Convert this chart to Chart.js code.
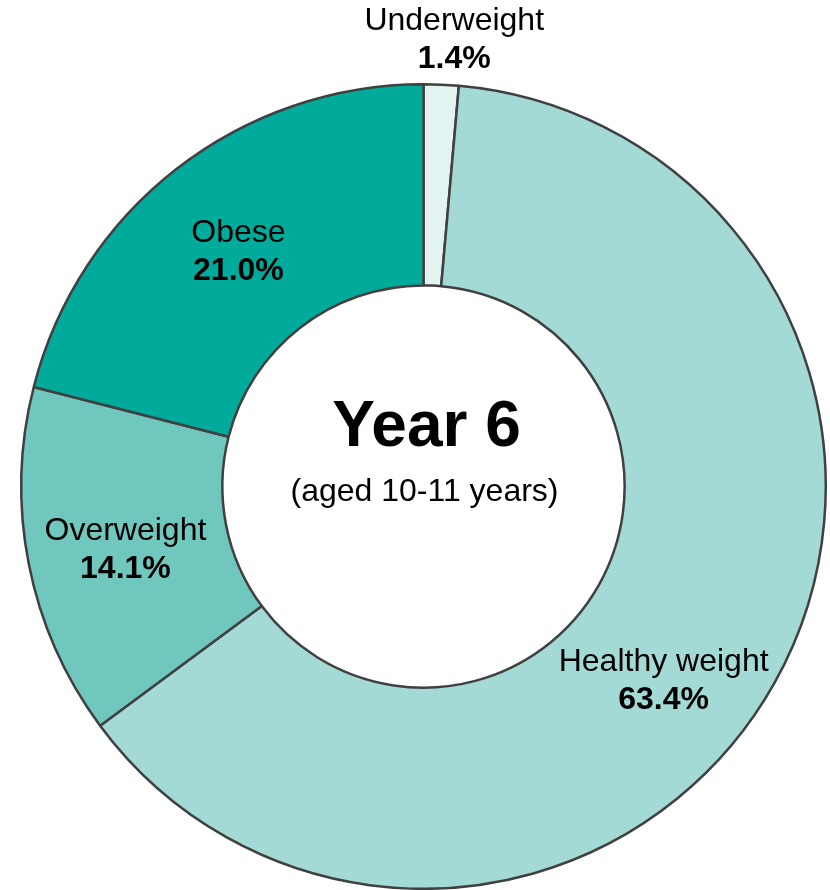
<!DOCTYPE html>
<html lang="en">
<head>
    <meta charset="UTF-8">
    <title>Year 6 weight categories</title>
    <script src="https://cdn.jsdelivr.net/npm/chart.js"></script>
    <style>
        html, body { margin: 0; padding: 0; background: #fff; }
        .chart-container { position: relative; width: 830px; height: 890px; }
    </style>
</head>
<body>
    <div class="chart-container">
        <canvas id="chart1"></canvas>
    </div>
    <script>
        // Weight categories, clockwise from 12 o'clock
        const categories = ["Underweight", "Healthy weight", "Overweight", "Obese"];
        const shares = [1.4, 63.4, 14.1, 21.0];
        const colours = ["#e3f3f1", "#a3dad5", "#6fc7bd", "#00ab9c"];
        const centreTitle = "Year 6";
        const centreSubtitle = "(aged 10-11 years)";

        const FONT = "'Liberation Sans', Arial, sans-serif";

        // Category name + bold percentage on each slice
        const sliceLabels = {
            id: "sliceLabels",
            afterDatasetsDraw(chart) {
                const ctx = chart.ctx;
                const arcs = chart.getDatasetMeta(0).data;
                // small nudges off the slice centre point
                const nudge = [[0, 0], [-23, 47], [-2, 6], [0, 4]];
                ctx.save();
                ctx.fillStyle = "#000";
                ctx.textAlign = "center";
                ctx.textBaseline = "middle";
                arcs.forEach((arc, i) => {
                    const p = arc.getCenterPoint();
                    let x = p.x + nudge[i][0], y = p.y + nudge[i][1];
                    if (i === 0) {
                        // tiny slice: label sits above the ring
                        const mid = (arc.startAngle + arc.endAngle) / 2;
                        x = arc.x + Math.cos(mid) * arc.outerRadius + 13;
                        y = arc.y + Math.sin(mid) * arc.outerRadius - 44;
                    }
                    ctx.font = "32px " + FONT;
                    ctx.fillText(categories[i], x, y - 19);
                    ctx.font = "bold 32px " + FONT;
                    ctx.fillText(shares[i].toFixed(1) + "%", x, y + 19);
                });

                // title in the hole
                const a = arcs[0];
                ctx.font = "bold 64px " + FONT;
                ctx.fillText(centreTitle, a.x + 3, a.y - 58);
                ctx.font = "32px " + FONT;
                ctx.fillText(centreSubtitle, a.x + 1, a.y + 6);
                ctx.restore();
            }
        };

        new Chart(document.getElementById("chart1").getContext("2d"), {
            type: "doughnut",
            data: {
                labels: categories,
                datasets: [{
                    data: shares,
                    backgroundColor: colours,
                    borderColor: "#404040",
                    borderWidth: 2.5,
                    borderAlign: "center",
                    hoverOffset: 0
                }]
            },
            options: {
                responsive: true,
                maintainAspectRatio: false,
                animation: false,
                cutout: "50%",
                layout: { padding: { left: 20, right: 3, top: 83, bottom: 0 } },
                plugins: {
                    legend: { display: false },
                    tooltip: { enabled: false }
                }
            },
            plugins: [sliceLabels]
        });
    </script>
</body>
</html>
